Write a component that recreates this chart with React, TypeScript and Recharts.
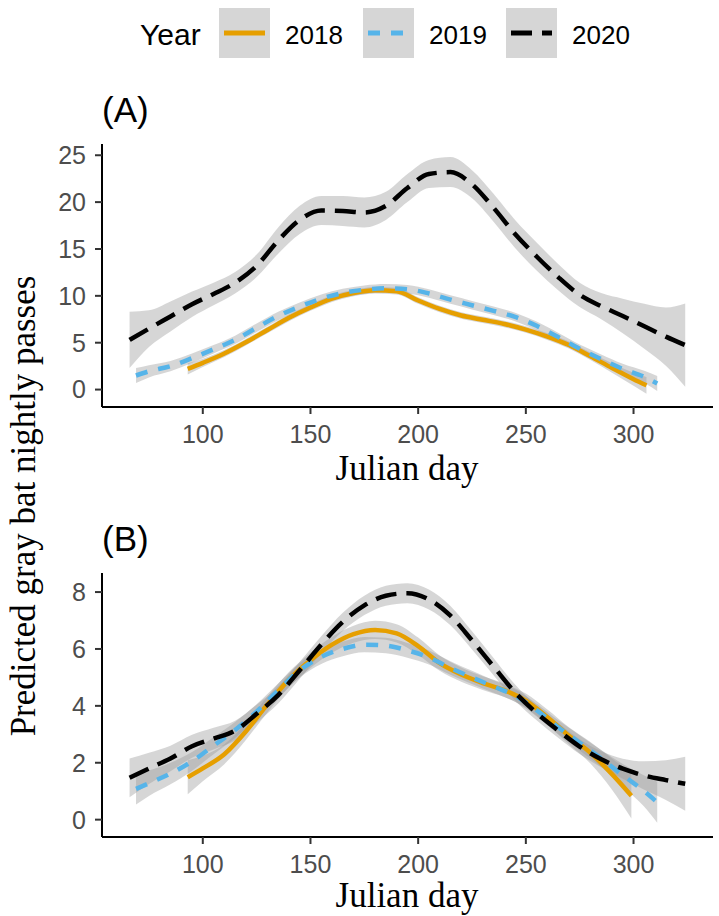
import { ComposedChart, Line, Area, XAxis, YAxis } from "recharts";

const SANS = "'Liberation Sans', Arial, sans-serif";
const SERIF = "'Liberation Serif', 'Times New Roman', serif";

const years = ["2018", "2019", "2020"];
const colors: Record<string, string> = { "2018": "#E69F00", "2019": "#56B4E9", "2020": "#000000" };
const dashes: Record<string, string | undefined> = { "2018": undefined, "2019": "12 11", "2020": "21 10" };

const xTicks = [100, 150, 200, 250, 300];
const yTicksA = [0, 5, 10, 15, 20, 25];
const yTicksB = [0, 2, 4, 6, 8];

// julian days of the fitted points
const days2020 = [66, 75, 85, 95, 105, 115, 125, 135, 145, 155, 165, 175, 185, 195, 205, 215, 225, 235, 245, 255, 265, 275, 285, 295, 305, 315, 324];
const days2019 = [69, 75, 85, 95, 105, 115, 125, 135, 145, 155, 165, 175, 185, 195, 205, 215, 225, 235, 245, 255, 265, 275, 285, 295, 305, 311];
const daysA2018 = [93, 100, 110, 120, 130, 140, 150, 160, 170, 180, 190, 200, 210, 220, 230, 240, 250, 260, 270, 280, 290, 300, 306];
const daysB2018 = [93, 100, 110, 120, 130, 140, 150, 160, 170, 180, 190, 200, 210, 220, 230, 240, 250, 260, 270, 280, 290, 299];

// panel A: fit and half width of the ribbon
const fitA2018 = [2.2, 2.85, 3.85, 5.05, 6.35, 7.65, 8.75, 9.7, 10.3, 10.6, 10.5, 9.5, 8.6, 7.9, 7.45, 7.0, 6.4, 5.65, 4.75, 3.55, 2.3, 1.1, 0.45];
const seA2018 = [0.6, 0.45, 0.38, 0.35, 0.35, 0.35, 0.35, 0.35, 0.35, 0.35, 0.35, 0.35, 0.35, 0.35, 0.35, 0.35, 0.35, 0.35, 0.38, 0.4, 0.5, 0.7, 0.9];
const fitA2019 = [1.5, 1.95, 2.5, 3.35, 4.3, 5.3, 6.6, 7.85, 8.85, 9.7, 10.3, 10.65, 10.8, 10.7, 10.25, 9.6, 9.0, 8.4, 7.75, 6.8, 5.6, 4.35, 3.25, 2.2, 1.35, 0.65];
const seA2019 = [0.8, 0.65, 0.55, 0.5, 0.45, 0.45, 0.45, 0.45, 0.45, 0.45, 0.45, 0.45, 0.45, 0.45, 0.45, 0.45, 0.45, 0.45, 0.45, 0.45, 0.45, 0.45, 0.5, 0.55, 0.65, 0.8];
const fitA2020 = [5.3, 6.5, 7.8, 9.1, 10.2, 11.4, 13.2, 15.9, 18.1, 19.1, 19.05, 18.9, 19.6, 21.5, 23.0, 23.2, 21.9, 19.4, 16.6, 14.2, 12.0, 10.1, 8.9, 7.85, 6.75, 5.65, 4.74];
const seA2020 = [3.0, 1.95, 1.6, 1.35, 1.2, 1.15, 1.2, 1.4, 1.5, 1.55, 1.6, 1.6, 1.5, 1.5, 1.5, 1.6, 1.5, 1.5, 1.5, 1.5, 1.4, 1.3, 1.4, 1.85, 2.4, 3.1, 4.45];

// panel B
const fitB2018 = [1.49, 1.8, 2.3, 3.1, 4.05, 4.92, 5.6, 6.15, 6.52, 6.67, 6.55, 6.1, 5.5, 5.1, 4.8, 4.55, 4.18, 3.6, 2.95, 2.35, 1.6, 0.84];
const seB2018 = [0.6, 0.45, 0.35, 0.3, 0.28, 0.27, 0.27, 0.28, 0.3, 0.32, 0.32, 0.3, 0.27, 0.25, 0.24, 0.24, 0.25, 0.27, 0.3, 0.38, 0.55, 0.8];
const fitB2019 = [1.08, 1.28, 1.62, 2.05, 2.6, 3.15, 3.8, 4.54, 5.25, 5.72, 6.0, 6.15, 6.12, 5.95, 5.7, 5.33, 5.0, 4.68, 4.36, 3.85, 3.25, 2.7, 2.15, 1.56, 1.0, 0.61];
const seB2019 = [0.55, 0.45, 0.38, 0.33, 0.3, 0.28, 0.26, 0.25, 0.25, 0.25, 0.26, 0.27, 0.27, 0.26, 0.25, 0.24, 0.23, 0.22, 0.22, 0.22, 0.24, 0.27, 0.3, 0.4, 0.55, 0.72];
const fitB2020 = [1.47, 1.8, 2.15, 2.58, 2.85, 3.13, 3.72, 4.38, 5.25, 6.15, 6.95, 7.53, 7.87, 7.96, 7.74, 7.17, 6.3, 5.38, 4.47, 3.75, 3.14, 2.57, 2.12, 1.79, 1.55, 1.39, 1.26];
const seB2020 = [0.68, 0.55, 0.45, 0.4, 0.38, 0.35, 0.32, 0.3, 0.3, 0.3, 0.32, 0.34, 0.35, 0.35, 0.35, 0.34, 0.32, 0.3, 0.28, 0.26, 0.26, 0.26, 0.28, 0.35, 0.5, 0.7, 0.95];

type Pt = { day: number; fit: number; band: [number, number] };

function toSeries(days: number[], fit: number[], se: number[]): Pt[] {
  return days.map((day, i) => ({ day, fit: fit[i], band: [fit[i] - se[i], fit[i] + se[i]] }));
}

const panelA: Record<string, Pt[]> = {
  "2018": toSeries(daysA2018, fitA2018, seA2018),
  "2019": toSeries(days2019, fitA2019, seA2019),
  "2020": toSeries(days2020, fitA2020, seA2020),
};
const panelB: Record<string, Pt[]> = {
  "2018": toSeries(daysB2018, fitB2018, seB2018),
  "2019": toSeries(days2019, fitB2019, seB2019),
  "2020": toSeries(days2020, fitB2020, seB2020),
};

const tickStyle = { fill: "#4D4D4D", fontSize: 25, fontFamily: SANS };

function Panel({ top, height, marginTop, marginBottom, yDomain, yTicks, series }: {
  top: number;
  height: number;
  marginTop: number;
  marginBottom: number;
  yDomain: [number, number];
  yTicks: number[];
  series: Record<string, Pt[]>;
}) {
  return (
    <div style={{ position: "absolute", left: 0, top }}>
      <ComposedChart width={719} height={height} margin={{ top: marginTop, right: 6, left: 42, bottom: marginBottom }}>
        <XAxis
          type="number"
          dataKey="day"
          domain={[53.2, 336.9]}
          ticks={xTicks}
          interval={0}
          height={40}
          axisLine={{ stroke: "#000", strokeWidth: 2 }}
          tickLine={{ stroke: "#333", strokeWidth: 2 }}
          tickSize={7}
          tickMargin={11}
          tick={tickStyle}
        />
        <YAxis
          type="number"
          domain={yDomain}
          ticks={yTicks}
          interval={0}
          width={60}
          axisLine={{ stroke: "#000", strokeWidth: 2 }}
          tickLine={{ stroke: "#333", strokeWidth: 2 }}
          tickSize={7}
          tickMargin={9}
          tick={tickStyle}
        />
        {years.map((y) => [
          <Area
            key={"band" + y}
            data={series[y]}
            dataKey="band"
            type="monotone"
            stroke="none"
            fill="#999999"
            fillOpacity={0.4}
            isAnimationActive={false}
          />,
          <Line
            key={"fit" + y}
            data={series[y]}
            dataKey="fit"
            type="monotone"
            stroke={colors[y]}
            strokeWidth={4.5}
            strokeDasharray={dashes[y]}
            dot={false}
            activeDot={false}
            isAnimationActive={false}
          />,
        ])}
      </ComposedChart>
    </div>
  );
}

const keyX: Record<string, number> = { "2018": 219, "2019": 363, "2020": 506 };

export default function App() {
  return (
    <div style={{ position: "absolute", left: 0, top: 0, width: 719, height: 916, background: "#fff" }}>
      <Panel top={0} height={450} marginTop={144} marginBottom={3} yDomain={[-1.86, 26.2]} yTicks={yTicksA} series={panelA} />
      <Panel top={450} height={466} marginTop={123} marginBottom={39} yDomain={[-0.61, 8.67]} yTicks={yTicksB} series={panelB} />
      <svg width={719} height={916} style={{ position: "absolute", left: 0, top: 0, pointerEvents: "none" }}>
        <text x={140} y={45} fontFamily={SANS} fontSize={30} fill="#000">Year</text>
        {years.map((y) => (
          <g key={y}>
            <rect x={keyX[y]} y={8} width={51} height={50} fill="#D6D6D6" />
            <line
              x1={keyX[y] + 5}
              x2={keyX[y] + 46}
              y1={33}
              y2={33}
              stroke={colors[y]}
              strokeWidth={5}
              strokeDasharray={dashes[y]}
            />
            <text x={keyX[y] + 66} y={44} fontFamily={SANS} fontSize={26} fill="#000">{y}</text>
          </g>
        ))}
        <text x={102} y={122} fontFamily={SANS} fontSize={35} fill="#000">(A)</text>
        <text x={102} y={551} fontFamily={SANS} fontSize={35} fill="#000">(B)</text>
        <text x={407} y={480} textAnchor="middle" fontFamily={SERIF} fontSize={35} fill="#000">Julian day</text>
        <text x={407} y={907} textAnchor="middle" fontFamily={SERIF} fontSize={35} fill="#000">Julian day</text>
        <text
          transform="translate(35 506) rotate(-90)"
          textAnchor="middle"
          fontFamily={SERIF}
          fontSize={35}
          fill="#000"
        >
          Predicted gray bat nightly passes
        </text>
      </svg>
    </div>
  );
}
